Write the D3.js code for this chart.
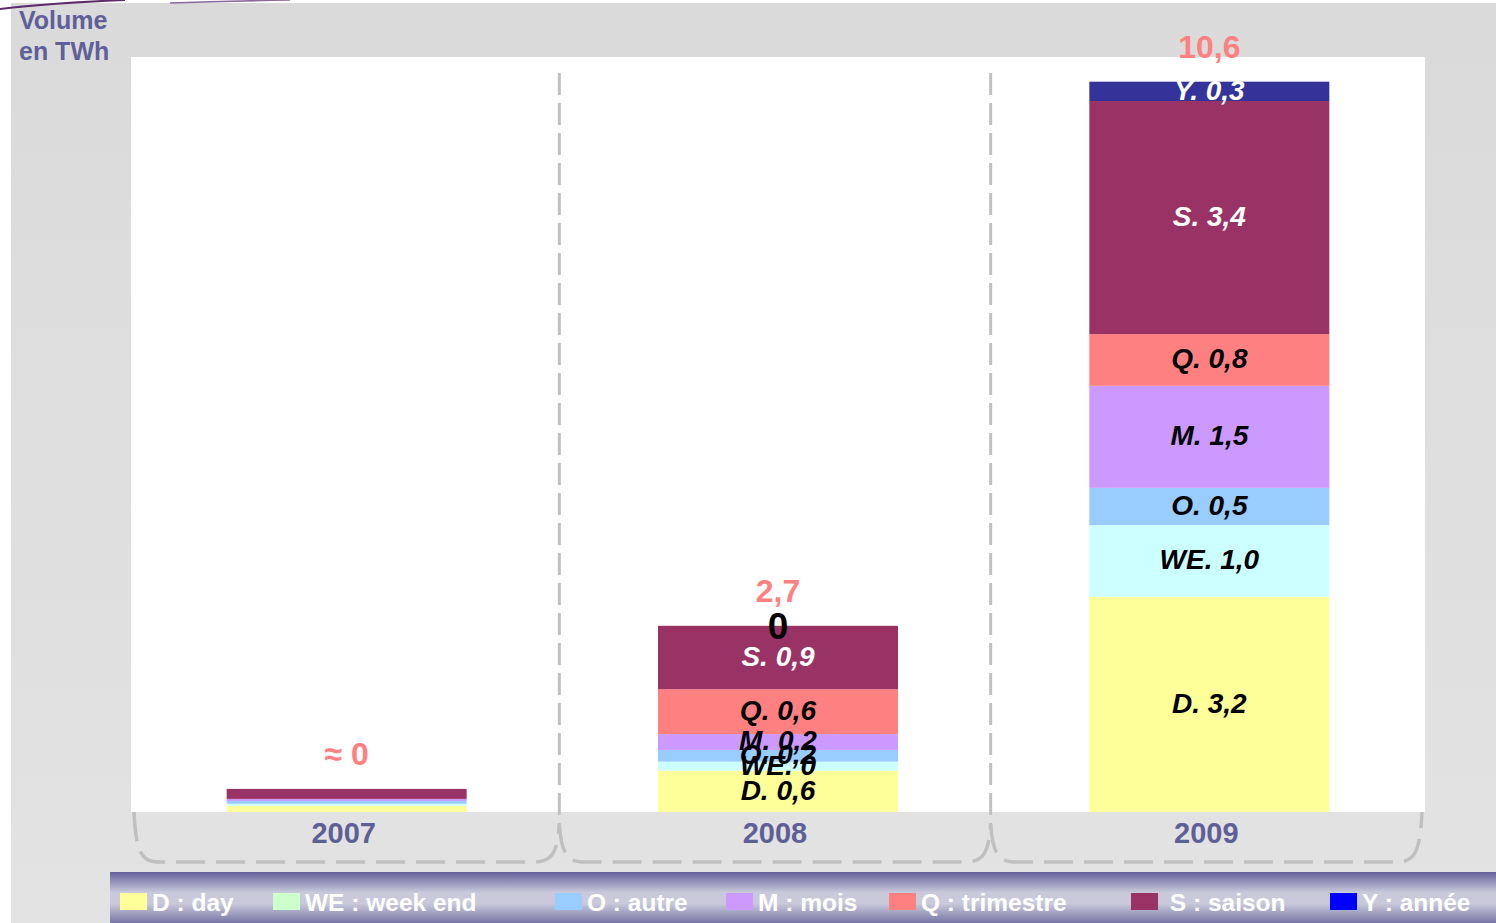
<!DOCTYPE html>
<html>
<head>
<meta charset="utf-8">
<script src="https://cdn.jsdelivr.net/npm/d3@7"></script>
<style>
  body { margin: 0; background: #fff; }
  svg { display: block; font-family: "Liberation Sans", Arial, sans-serif; }
</style>
</head>
<body>
<div id="chart"></div>
<script>
// Volumes par produit (TWh)
const years = ['2007', '2008', '2009'];
const dayVals    = [0.09, 0.60, 3.12];
const weVals     = [0.03, 0.13, 1.04];
const autreVals  = [0.04, 0.17, 0.54];
const moisVals   = [0.03, 0.23, 1.48];
const trimVals   = [0.00, 0.65, 0.75];
const saisonVals = [0.145, 0.92, 3.38];
const anneeVals  = [0.00, 0.00, 0.28];

const dayLabels    = ['', 'D. 0,6', 'D. 3,2'];
const weLabels     = ['', 'WE. 0', 'WE. 1,0'];
const autreLabels  = ['', 'O. 0,2', 'O. 0,5'];
const moisLabels   = ['', 'M. 0,2', 'M. 1,5'];
const trimLabels   = ['', 'Q. 0,6', 'Q. 0,8'];
const saisonLabels = ['', 'S. 0,9', 'S. 3,4'];
const anneeLabels  = ['', '0', 'Y. 0,3'];

const totalLabels = ['\u2248 0', '2,7', '10,6'];

const seriesKeys = ['D', 'WE', 'O', 'M', 'Q', 'S', 'Y'];
const legendLabels = ['D : day', 'WE : week end', 'O : autre', 'M : mois', 'Q : trimestre', '\u00a0S : saison', 'Y : ann\u00e9e'];

// couleurs
const barColors    = { D: '#ffff99', WE: '#ccffff', O: '#99ccff', M: '#cc99ff', Q: '#ff8080', S: '#993366', Y: '#333399' };
const legendColors = { D: '#ffff99', WE: '#ccffcc', O: '#99ccff', M: '#cc99ff', Q: '#ff8080', S: '#993366', Y: '#0000ff' };
const whiteText = { S: true, Y: true };

const W = 1496, H = 923;
const plot = { left: 131, right: 1425, top: 57, bottom: 812 };

const valuesByKey = { D: dayVals, WE: weVals, O: autreVals, M: moisVals, Q: trimVals, S: saisonVals, Y: anneeVals };
const labelsByKey = { D: dayLabels, WE: weLabels, O: autreLabels, M: moisLabels, Q: trimLabels, S: saisonLabels, Y: anneeLabels };

const table = years.map((year, i) => {
    const row = { year: year };
    seriesKeys.forEach(k => { row[k] = valuesByKey[k][i]; });
    return row;
});

const stacked = d3.stack().keys(seriesKeys)(table);

const svg = d3.select('#chart').append('svg')
    .attr('width', W)
    .attr('height', H);

const defs = svg.append('defs');
const bgGrad = defs.append('linearGradient').attr('id', 'bgGrad')
    .attr('x1', 0).attr('y1', 0).attr('x2', 0).attr('y2', 1);
bgGrad.append('stop').attr('offset', 0).attr('stop-color', '#dadada');
bgGrad.append('stop').attr('offset', 1).attr('stop-color', '#e3e3e3');

const legGrad = defs.append('linearGradient').attr('id', 'legGrad')
    .attr('x1', 0).attr('y1', 0).attr('x2', 0).attr('y2', 1);
legGrad.append('stop').attr('offset', 0).attr('stop-color', '#62629a');
legGrad.append('stop').attr('offset', 0.4).attr('stop-color', '#c9c9db');
legGrad.append('stop').attr('offset', 0.62).attr('stop-color', '#c9c9db');
legGrad.append('stop').attr('offset', 1).attr('stop-color', '#7676a4');

// fond gris + zone blanche
svg.append('rect')
    .attr('x', 11).attr('y', 3)
    .attr('width', W - 11).attr('height', H - 3)
    .attr('fill', 'url(#bgGrad)');

svg.append('path')
    .attr('d', 'M0,9 Q50,3 125,0')
    .attr('fill', 'none').attr('stroke', '#5b2d6b').attr('stroke-width', 2);
svg.append('path')
    .attr('d', 'M170,3 Q230,1 290,0')
    .attr('fill', 'none').attr('stroke', '#8a6a9a').attr('stroke-width', 1.5);

svg.append('rect')
    .attr('x', plot.left).attr('y', plot.top)
    .attr('width', plot.right - plot.left).attr('height', plot.bottom - plot.top)
    .attr('fill', '#fff');

const x = d3.scaleBand()
    .domain(years)
    .range([plot.left, plot.right])
    .padding(0);

const y = d3.scaleLinear()
    .domain([0, 10.6])
    .range([plot.bottom, 81]);

const barW = 240;
const barX = d => x(d) + x.bandwidth() / 2 - barW / 2;

// séparateurs pointillés
const dividers = years.slice(1).map(d => x(d) - 3);
svg.selectAll('line.divider')
    .data(dividers)
    .join('line')
    .attr('class', 'divider')
    .attr('x1', d => d).attr('x2', d => d)
    .attr('y1', 73).attr('y2', 824)
    .attr('stroke', '#c0c0c0')
    .attr('stroke-width', 3)
    .attr('stroke-dasharray', '22,8');

// accolades sous les catégories
svg.selectAll('path.bracket')
    .data(years)
    .join('path')
    .attr('class', 'bracket')
    .attr('d', (d, i) => {
        const l = i === 0 ? x(d) + 3 : dividers[i - 1];
        const r = i === years.length - 1 ? x(d) + x.bandwidth() - 3 : dividers[i];
        const yl = i === 0 ? 812 : 824;
        const yr = i === years.length - 1 ? 812 : 824;
        const b = 862;
        return `M${l},${yl} C${l + 2},${b - 8} ${l + 8},${b} ${l + 26},${b}` +
               ` L${r - 26},${b} C${r - 8},${b} ${r - 2},${b - 8} ${r},${yr}`;
    })
    .attr('fill', 'none')
    .attr('stroke', '#c0c0c0')
    .attr('stroke-width', 3.5)
    .attr('stroke-dasharray', '29,11');

// barres empilées
const layers = svg.selectAll('g.layer')
    .data(stacked)
    .join('g')
    .attr('class', 'layer')
    .attr('fill', s => barColors[s.key]);

layers.selectAll('rect')
    .data(s => s)
    .join('rect')
    .attr('x', d => barX(d.data.year))
    .attr('y', d => y(d[1]))
    .attr('width', barW)
    .attr('height', d => y(d[0]) - y(d[1]));

// étiquettes des segments
stacked.forEach(s => {
    s.forEach((d, i) => {
        const txt = labelsByKey[s.key][i];
        if (!txt) return;
        const isZero = d[1] - d[0] === 0;
        svg.append('text')
            .attr('x', x(d.data.year) + x.bandwidth() / 2)
            .attr('y', y((d[0] + d[1]) / 2))
            .attr('dy', isZero ? '0.36em' : '0.3em')
            .attr('text-anchor', 'middle')
            .attr('font-size', isZero ? 37 : 28)
            .attr('font-weight', 'bold')
            .attr('font-style', isZero ? 'normal' : 'italic')
            .attr('fill', whiteText[s.key] && !isZero ? '#fff' : '#000')
            .text(txt);
    });
});

// totaux
const totals = table.map(r => d3.sum(seriesKeys, k => r[k]));
svg.selectAll('text.total')
    .data(years)
    .join('text')
    .attr('class', 'total')
    .attr('x', d => x(d) + x.bandwidth() / 2)
    .attr('y', (d, i) => y(totals[i]) - 34)
    .attr('dy', '0.33em')
    .attr('text-anchor', 'middle')
    .attr('font-size', 32)
    .attr('font-weight', 'bold')
    .attr('fill', '#ff8080')
    .text((d, i) => totalLabels[i]);

// années
svg.selectAll('text.cat')
    .data(years)
    .join('text')
    .attr('class', 'cat')
    .attr('x', d => x(d) + x.bandwidth() / 2 - 3)
    .attr('y', 833)
    .attr('dy', '0.36em')
    .attr('text-anchor', 'middle')
    .attr('font-size', 29)
    .attr('font-weight', 'bold')
    .attr('fill', '#5f5f98')
    .text(d => d);

// titre d'axe
const title = svg.append('text')
    .attr('x', 19)
    .attr('font-size', 25)
    .attr('font-weight', 'bold')
    .attr('fill', '#5f5f99');
title.append('tspan').attr('x', 19).attr('y', 29).text('Volume');
title.append('tspan').attr('x', 19).attr('y', 60).text('en TWh');

// légende
svg.append('rect')
    .attr('x', 110).attr('y', 872)
    .attr('width', W - 110).attr('height', H - 872)
    .attr('fill', 'url(#legGrad)');

const legendX = [120, 273, 555, 726, 889, 1131, 1330];
const legend = svg.selectAll('g.leg')
    .data(seriesKeys)
    .join('g')
    .attr('class', 'leg')
    .attr('transform', (d, i) => `translate(${legendX[i]},893)`);

legend.append('rect')
    .attr('width', 27).attr('height', 17)
    .attr('fill', d => legendColors[d]);

legend.append('text')
    .attr('x', 32)
    .attr('y', 9)
    .attr('dy', '0.36em')
    .attr('font-size', 24.5)
    .attr('font-weight', 'bold')
    .attr('fill', '#fff')
    .text((d, i) => legendLabels[i]);
</script>
</body>
</html>
